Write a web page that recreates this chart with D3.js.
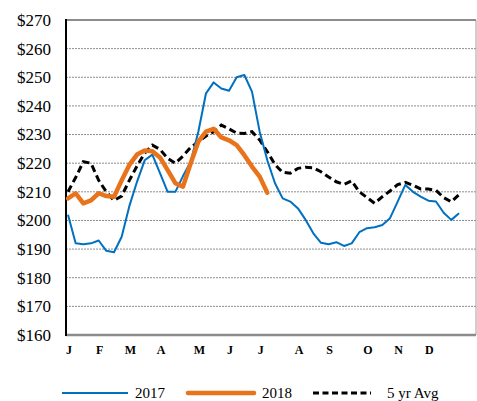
<!DOCTYPE html>
<html><head><meta charset="utf-8">
<script src="https://cdn.jsdelivr.net/npm/d3@7"></script>
<style>html,body{margin:0;padding:0;background:#fff;}svg{display:block;}
text{font-family:"Liberation Serif","Times New Roman","DejaVu Serif",serif;}</style>
</head><body>
<svg id="c" width="477" height="401"></svg>
<script>
const monthLabels = ["J","F","M","A","M","J","J","A","S","O","N","D"];
const monthWeeks = [0,4,8,12,17,21,25,30,34,39,43,47];
const yTicks = [160,170,180,190,200,210,220,230,240,250,260,270];
const series2017 = [202,192,191.7,192,193,189.4,188.9,194.3,205,213.5,221,223,216.5,210,210,215.5,220.5,231,244.4,248.2,246.1,245.3,250,250.8,245,231,221,213,207.7,206.6,204.2,200.2,195.5,192.2,191.7,192.4,191.1,192,195.9,197.3,197.6,198.4,200.8,206.6,212.4,210,208.3,206.9,206.6,202.7,200.2,202.5];
const series2018 = [207.7,209.5,206,207,209.5,208.5,208.3,214,219.4,223,224.4,224.2,222,217.6,213,211.8,220,227.5,231,232,229,228,226.3,222.8,218.8,215.3,209.7];
const series5yr = [210,215,220.5,220,214,210,207,208.5,214,219,223.5,226.3,224.8,221.7,220,222.5,225.5,227.5,229.5,231,233.3,232,230.5,230.4,231,228.1,224,219.5,216.8,216.5,218.2,218.6,218.4,217,215.2,213.5,212.6,213.8,210,208,206,208.3,210.3,212.5,213.3,212.3,211,211,210.5,208,206.5,209];
const legendNames = ["2017","2018","5 yr Avg"];

const FONT = "'Liberation Serif','Times New Roman','DejaVu Serif',serif";
const svg = d3.select("#c");
const L = 66, R = 476, T = 20, B = 335;
const x = d3.scaleLinear().domain([0,51]).range([68,459]);
const y = d3.scaleLinear().domain([160,270]).range([B,T]);

// grid
svg.append("g").selectAll("line").data(yTicks.filter(v=>v>160 && v<270)).join("line")
  .attr("x1",L).attr("x2",R).attr("y1",d=>y(d)).attr("y2",d=>y(d))
  .attr("stroke","#8c8c8c").attr("stroke-width",1).attr("stroke-dasharray","2,1");
// frame
svg.append("line").attr("x1",L).attr("x2",R).attr("y1",T).attr("y2",T).attr("stroke","#8c8c8c").attr("stroke-width",2);
svg.append("line").attr("x1",R).attr("x2",R).attr("y1",T).attr("y2",B).attr("stroke","#a0a0a0").attr("stroke-width",1);
svg.append("line").attr("x1",L).attr("x2",R).attr("y1",B).attr("y2",B).attr("stroke","#8c8c8c").attr("stroke-width",2.5);
svg.append("line").attr("x1",L).attr("x2",L).attr("y1",T-1).attr("y2",B+1).attr("stroke","#000").attr("stroke-width",2);

// y labels
const yAxis = d3.axisLeft(y).tickValues(yTicks).tickFormat(d=>"$"+d).tickSize(0).tickPadding(15);
const ya = svg.append("g").attr("transform",`translate(${L},0)`).call(yAxis)
  .attr("font-family",FONT).attr("font-size",17);
ya.select(".domain").remove();
ya.selectAll("text").style("font-family",FONT).style("font-size","17px").attr("fill","#000");

// x labels
svg.append("g").selectAll("text").data(monthLabels).join("text")
  .attr("x",(d,i)=>x(monthWeeks[i])+1).attr("y",354)
  .attr("text-anchor","middle").style("font-family",FONT)
  .style("font-size","12px").style("font-weight","bold").text(d=>d);

const line = d3.line().x((d,i)=>x(i)).y(d=>y(d));
svg.append("path").datum(series5yr).attr("d",line).attr("fill","none")
  .attr("stroke","#000").attr("stroke-width",3).attr("stroke-dasharray","7,4");
svg.append("path").datum(series2017).attr("d",line).attr("fill","none")
  .attr("stroke","#0070C0").attr("stroke-width",2).attr("stroke-linejoin","round");
svg.append("path").datum(series2018).attr("d",line).attr("fill","none")
  .attr("stroke","#E8731A").attr("stroke-width",4.5).attr("stroke-linejoin","round").attr("stroke-linecap","round");

// legend
const ly = 393;
const leg = [
  {x1:62,x2:128,tx:135,color:"#0070C0",w:2,dash:null,cap:"butt"},
  {x1:188,x2:254,tx:262,color:"#E8731A",w:4.5,dash:null,cap:"round"},
  {x1:313,x2:371,tx:387,color:"#000",w:3,dash:"6,3.5",cap:"butt"}
];
leg.forEach((l,i)=>{
  svg.append("line").attr("x1",l.x1).attr("x2",l.x2).attr("y1",ly).attr("y2",ly)
    .attr("stroke",l.color).attr("stroke-width",l.w).attr("stroke-dasharray",l.dash).attr("stroke-linecap",l.cap);
  svg.append("text").attr("x",l.tx).attr("y",ly+5).style("font-family",FONT)
    .style("font-size","15px").attr("fill","#000").text(legendNames[i]);
});
</script>
</body></html>
